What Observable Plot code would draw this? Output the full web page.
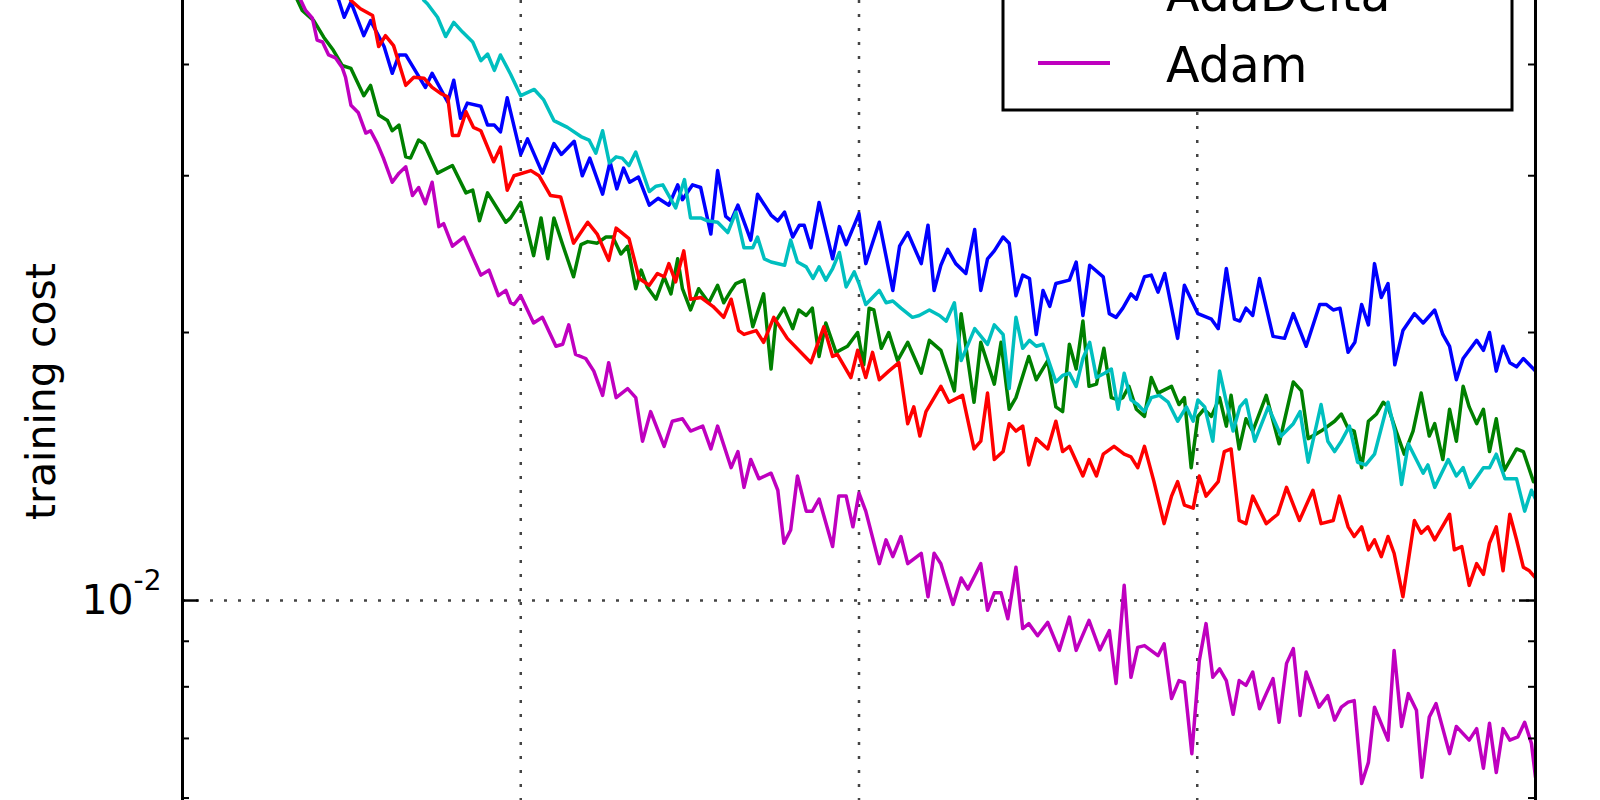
<!DOCTYPE html>
<html>
<head>
<meta charset="utf-8">
<script src="https://cdn.jsdelivr.net/npm/d3@7"></script>
<script src="https://cdn.jsdelivr.net/npm/@observablehq/plot@0.6"></script>
<style>
html, body { margin: 0; padding: 0; background: #fff; overflow: hidden; }
#chart svg { display: block; overflow: hidden; }
</style>
</head>
<body>
<div id="chart"></div>
<script>
// ---- data (epoch, training cost) ----
const seriesNames = ["AdaGrad", "RMSProp", "SGDNesterov", "AdaDelta", "Adam"];
const seriesColors = ["#0000ff", "#008000", "#ff0000", "#00bfbf", "#bf00bf"];

const adagrad = [[18,0.0560],[23.1,0.0472],[23.9,0.0452],[24.9,0.0470],[26.8,0.0431],[27.8,0.0448],[29.8,0.0419],[31.0,0.0391],[32.0,0.0410],[33.0,0.0410],[35.9,0.0377],[36.9,0.0391],[39.2,0.0363],[40.1,0.0384],[41.1,0.0348],[42.1,0.0362],[44.1,0.0359],[45.1,0.0342],[46.1,0.0342],[47.0,0.0336],[48.0,0.0367],[50.0,0.0317],[51.0,0.0330],[53.2,0.0302],[54.9,0.0326],[56.0,0.0317],[57.9,0.0328],[59.1,0.0300],[60.2,0.0314],[62.1,0.0286],[63.2,0.0311],[64.2,0.0290],[65.2,0.0306],[66.1,0.0295],[67.4,0.0299],[69.0,0.0278],[70.3,0.0283],[71.9,0.0278],[73.2,0.0293],[73.9,0.0282],[75.4,0.0293],[76.6,0.0291],[78.1,0.0258],[79.1,0.0304],[80.3,0.0270],[81.1,0.0267],[82.1,0.0278],[84.0,0.0254],[85.0,0.0286],[87.0,0.0271],[88.0,0.0267],[89.0,0.0273],[90.2,0.0256],[91.2,0.0264],[91.9,0.0264],[92.9,0.0249],[94.1,0.0280],[96.1,0.0242],[97.1,0.0263],[98.1,0.0251],[100.0,0.0272],[101.0,0.0239],[103.0,0.0266],[105.0,0.0223],[106.0,0.0250],[107.2,0.0259],[109.2,0.0239],[110.2,0.0264],[111.1,0.0223],[112.1,0.0238],[113.1,0.0248],[114.3,0.0239],[115.8,0.0233],[117.1,0.0261],[118.0,0.0223],[119.0,0.0242],[120.0,0.0247],[121.3,0.0256],[122.2,0.0252],[123.2,0.0220],[124.2,0.0232],[125.2,0.0230],[126.2,0.0199],[127.2,0.0223],[128.2,0.0214],[129.1,0.0227],[131.1,0.0229],[132.1,0.0240],[133.1,0.0209],[134.1,0.0238],[136.1,0.0231],[137.0,0.0210],[138.0,0.0208],[139.0,0.0213],[140.2,0.0221],[141.0,0.0218],[142.2,0.0231],[143.2,0.0232],[144.2,0.0222],[145.2,0.0233],[147.1,0.0197],[148.1,0.0226],[150.1,0.0210],[152.1,0.0207],[153.1,0.0202],[154.3,0.0236],[155.5,0.0207],[156.3,0.0206],[157.2,0.0213],[158.2,0.0209],[159.2,0.0230],[161.2,0.0198],[162.9,0.0197],[164.2,0.0210],[166.1,0.0193],[168.1,0.0215],[169.1,0.0215],[170.1,0.0212],[171.1,0.0213],[172.3,0.0190],[173.3,0.0195],[174.3,0.0215],[175.3,0.0204],[176.2,0.0239],[177.2,0.0219],[178.2,0.0227],[179.2,0.0184],[180.4,0.0201],[182.1,0.0210],[183.4,0.0205],[185.1,0.0212],[186.3,0.0199],[187.3,0.0193],[188.3,0.0177],[189.3,0.0187],[191.3,0.0196],[192.3,0.0191],[193.2,0.0200],[194.2,0.0181],[195.2,0.0193],[196.2,0.0185],[197.2,0.0183],[198.2,0.0187],[200,0.0181]];

const rmsprop = [[12,0.0569],[17.7,0.0460],[19.4,0.0448],[20.9,0.0429],[22.3,0.0415],[23.6,0.0399],[24.9,0.0396],[26.8,0.0369],[27.8,0.0379],[29.0,0.0351],[30.3,0.0346],[31.0,0.0337],[32.0,0.0342],[33.0,0.0315],[33.7,0.0314],[34.9,0.0329],[35.7,0.0326],[37.7,0.0302],[39.9,0.0308],[41.9,0.0287],[42.9,0.0289],[43.9,0.0267],[45.1,0.0287],[47.8,0.0266],[48.5,0.0269],[50.0,0.0280],[51.9,0.0244],[53.0,0.0269],[54.0,0.0242],[54.9,0.0269],[56.2,0.0251],[57.8,0.0231],[58.9,0.0251],[59.9,0.0253],[61.3,0.0252],[62.6,0.0256],[63.6,0.0256],[64.8,0.0245],[65.8,0.0250],[67.0,0.0224],[67.8,0.0235],[68.7,0.0225],[70.0,0.0218],[71.2,0.0231],[72.2,0.0221],[73.2,0.0242],[73.9,0.0224],[75.1,0.0212],[76.3,0.0224],[77.8,0.0216],[79.1,0.0226],[80.0,0.0216],[81.1,0.0223],[81.8,0.0227],[83.0,0.0229],[84.3,0.0203],[85.9,0.0221],[87.0,0.0182],[87.7,0.0206],[88.9,0.0213],[90.2,0.0202],[91.1,0.0212],[92.2,0.0209],[93.1,0.0213],[94.1,0.0188],[95.1,0.0205],[96.6,0.0190],[98.3,0.0193],[99.8,0.0200],[100.7,0.0184],[101.5,0.0213],[102.2,0.0212],[103.3,0.0192],[104.4,0.0200],[105.7,0.0186],[107.2,0.0195],[109.2,0.0180],[110.4,0.0196],[112.1,0.0191],[114.1,0.0172],[115.1,0.0210],[117.0,0.0167],[118.0,0.0195],[120.0,0.0175],[121.0,0.0195],[122.2,0.0164],[123.2,0.0169],[125.1,0.0188],[126.2,0.0177],[127.9,0.0186],[129.1,0.0165],[130.1,0.0163],[131.1,0.0194],[132.1,0.0182],[133.1,0.0206],[134.0,0.0174],[135.1,0.0175],[136.2,0.0192],[137.3,0.0169],[138.3,0.0168],[139.0,0.0169],[139.9,0.0174],[141.0,0.0164],[142.2,0.0161],[143.2,0.0178],[144.2,0.0171],[146.2,0.0174],[147.3,0.0166],[148.1,0.0169],[149.1,0.0141],[150.1,0.0161],[151.0,0.0164],[152.1,0.0161],[153.3,0.0169],[154.3,0.0157],[155.0,0.0170],[156.2,0.0148],[157.2,0.0160],[158.2,0.0155],[160.2,0.0170],[162.1,0.0150],[164.2,0.0176],[165.4,0.0172],[166.4,0.0152],[168.3,0.0155],[170.3,0.0159],[171.3,0.0162],[172.3,0.0156],[173.2,0.0155],[174.3,0.0141],[175.3,0.0159],[176.5,0.0162],[177.5,0.0167],[178.2,0.0165],[179.4,0.0155],[180.6,0.0146],[181.9,0.0155],[183.1,0.0171],[184.3,0.0153],[185.1,0.0158],[186.3,0.0144],[187.3,0.0164],[188.3,0.0151],[189.3,0.0174],[190.2,0.0165],[191.3,0.0158],[192.3,0.0164],[193.2,0.0147],[194.2,0.0160],[195.4,0.0140],[197.2,0.0148],[198.2,0.0147],[199.7,0.0136],[200,0.0136]];

const sgdNesterov = [[19,0.0560],[24.9,0.0472],[26.3,0.0462],[28.1,0.0454],[29.0,0.0419],[30.0,0.0431],[31.2,0.0420],[33.0,0.0379],[34.2,0.0387],[35.7,0.0386],[36.9,0.0377],[38.2,0.0371],[39.2,0.0368],[39.9,0.0333],[40.8,0.0333],[41.9,0.0354],[43.0,0.0340],[44.1,0.0337],[46.0,0.0311],[47.0,0.0323],[48.0,0.0289],[49.0,0.0300],[51.5,0.0304],[52.7,0.0300],[54.4,0.0285],[55.9,0.0284],[57.8,0.0252],[59.9,0.0266],[61.3,0.0258],[63.0,0.0241],[64.1,0.0262],[66.0,0.0255],[67.5,0.0230],[69.0,0.0226],[70.2,0.0233],[71.2,0.0231],[71.9,0.0239],[72.9,0.0228],[74.1,0.0247],[75.1,0.0218],[76.6,0.0219],[78.4,0.0214],[80.0,0.0208],[81.1,0.0218],[82.2,0.0201],[83.0,0.0199],[84.8,0.0201],[85.9,0.0195],[87.4,0.0208],[89.4,0.0197],[92.9,0.0185],[94.8,0.0203],[96.1,0.0188],[96.8,0.0189],[98.8,0.0178],[99.8,0.0191],[101.0,0.0178],[102.0,0.0190],[103.0,0.0177],[104.4,0.0181],[105.9,0.0185],[107.2,0.0158],[108.1,0.0165],[109.0,0.0153],[109.9,0.0163],[112.1,0.0174],[113.3,0.0167],[115.3,0.0170],[117.0,0.0148],[118.0,0.0151],[119.0,0.0171],[120.0,0.0144],[121.3,0.0147],[122.2,0.0158],[123.2,0.0155],[124.2,0.0157],[125.1,0.0142],[126.2,0.0152],[127.9,0.0148],[129.1,0.0159],[130.1,0.0147],[131.1,0.0149],[133.1,0.0138],[134.0,0.0144],[135.1,0.0138],[136.1,0.0146],[137.7,0.0149],[139.2,0.0146],[140.2,0.0145],[141.2,0.0141],[142.2,0.0149],[143.6,0.0136],[145.1,0.0122],[146.2,0.0131],[147.1,0.0136],[148.1,0.0128],[149.4,0.0127],[150.3,0.0138],[151.3,0.0131],[153.1,0.0136],[154.0,0.0147],[155.0,0.0148],[156.2,0.0123],[157.2,0.0122],[158.2,0.0131],[160.2,0.0122],[161.9,0.0125],[163.2,0.0134],[165.1,0.0123],[167.1,0.0133],[168.3,0.0122],[170.1,0.0123],[171.0,0.0131],[172.3,0.0121],[173.2,0.0118],[174.3,0.0121],[175.3,0.0114],[176.2,0.0117],[177.2,0.0112],[178.2,0.0118],[179.1,0.0113],[180.4,0.0101],[182.1,0.0123],[183.1,0.0119],[184.1,0.0121],[185.1,0.0117],[187.3,0.0125],[188.0,0.0114],[189.1,0.0115],[190.2,0.0104],[191.3,0.0110],[192.3,0.0107],[193.2,0.0116],[194.2,0.0121],[195.2,0.0108],[196.2,0.0125],[197.2,0.0117],[198.2,0.0109],[199.1,0.0108],[200,0.0106]];

const adadelta = [[30,0.0560],[35.7,0.0472],[36.2,0.0468],[37.7,0.0452],[38.9,0.0430],[40.1,0.0446],[41.4,0.0435],[42.9,0.0424],[44.1,0.0404],[45.1,0.0411],[46.1,0.0394],[47.0,0.0410],[48.5,0.0390],[50.0,0.0369],[52.0,0.0375],[53.4,0.0365],[54.9,0.0346],[56.9,0.0340],[58.9,0.0332],[60.1,0.0329],[61.1,0.0318],[62.1,0.0337],[63.1,0.0310],[64.1,0.0315],[65.0,0.0314],[66.0,0.0308],[67.0,0.0319],[69.0,0.0288],[70.0,0.0292],[71.0,0.0293],[72.9,0.0276],[74.2,0.0297],[75.1,0.0269],[76.6,0.0269],[77.6,0.0267],[79.1,0.0266],[80.6,0.0259],[81.8,0.0273],[83.0,0.0249],[84.3,0.0249],[85.0,0.0256],[86.0,0.0242],[87.0,0.0240],[89.0,0.0238],[89.9,0.0254],[90.9,0.0240],[92.2,0.0237],[93.2,0.0230],[94.1,0.0237],[95.1,0.0229],[96.1,0.0236],[97.1,0.0246],[98.1,0.0225],[99.3,0.0234],[100.0,0.0227],[101.0,0.0215],[103.0,0.0223],[104.0,0.0216],[105.0,0.0217],[106.2,0.0213],[107.9,0.0208],[108.9,0.0209],[110.4,0.0212],[111.9,0.0209],[112.9,0.0206],[114.1,0.0216],[115.1,0.0186],[117.1,0.0202],[119.0,0.0194],[120.0,0.0204],[121.3,0.0199],[122.2,0.0173],[123.2,0.0208],[124.2,0.0192],[125.2,0.0196],[126.2,0.0193],[127.2,0.0194],[129.1,0.0176],[130.1,0.0179],[131.1,0.0180],[132.1,0.0174],[133.1,0.0187],[134.1,0.0195],[135.1,0.0178],[136.3,0.0180],[137.3,0.0182],[138.3,0.0164],[139.2,0.0180],[140.2,0.0168],[141.2,0.0166],[142.2,0.0163],[143.2,0.0169],[144.4,0.0170],[145.7,0.0167],[147.1,0.0159],[148.4,0.0165],[149.4,0.0159],[150.1,0.0168],[151.1,0.0165],[152.3,0.0151],[153.3,0.0181],[154.3,0.0167],[155.3,0.0155],[156.3,0.0165],[157.2,0.0168],[158.5,0.0151],[160.5,0.0165],[162.4,0.0153],[164.2,0.0158],[165.2,0.0163],[166.4,0.0143],[168.3,0.0166],[169.3,0.0151],[170.3,0.0147],[171.3,0.0151],[172.5,0.0157],[173.7,0.0143],[174.9,0.0142],[176.2,0.0146],[178.2,0.0167],[179.2,0.0155],[180.2,0.0135],[181.2,0.0150],[183.4,0.0139],[184.1,0.0142],[185.1,0.0134],[187.1,0.0144],[188.3,0.0138],[189.3,0.0141],[190.3,0.0134],[192.3,0.0141],[193.2,0.0141],[194.2,0.0146],[195.5,0.0137],[197.2,0.0137],[198.4,0.0126],[199.4,0.0133],[200,0.0130]];

const adam = [[5,0.0750],[12,0.0569],[17.5,0.0472],[18.2,0.0460],[19.2,0.0451],[19.9,0.0426],[20.7,0.0424],[21.6,0.0410],[22.6,0.0407],[23.6,0.0397],[24.1,0.0387],[24.9,0.0360],[26.0,0.0353],[27.1,0.0335],[27.8,0.0337],[28.8,0.0326],[29.7,0.0314],[31.0,0.0295],[32.0,0.0302],[33.0,0.0307],[34.0,0.0285],[34.9,0.0291],[35.9,0.0279],[36.9,0.0295],[37.9,0.0263],[38.6,0.0265],[39.9,0.0250],[41.6,0.0256],[44.1,0.0232],[45.3,0.0235],[46.7,0.0220],[47.8,0.0223],[48.5,0.0216],[49.0,0.0215],[50.0,0.0220],[51.9,0.0205],[53.2,0.0208],[55.2,0.0193],[56.2,0.0194],[57.1,0.0204],[58.1,0.0189],[59.6,0.0187],[60.8,0.0181],[62.1,0.0170],[63.0,0.0185],[64.1,0.0169],[65.8,0.0173],[67.0,0.0169],[68.0,0.0151],[69.2,0.0163],[71.2,0.0149],[72.4,0.0159],[73.9,0.0160],[75.1,0.0155],[76.9,0.0157],[78.1,0.0148],[79.1,0.0157],[81.1,0.0141],[82.1,0.0147],[83.0,0.0134],[84.0,0.0144],[85.2,0.0137],[87.0,0.0139],[88.0,0.0133],[88.9,0.0116],[89.9,0.0120],[90.9,0.0138],[92.2,0.0126],[93.1,0.0126],[94.1,0.0130],[96.1,0.0115],[97.0,0.0131],[98.1,0.0131],[99.1,0.0121],[100.0,0.0132],[101.0,0.0126],[103.0,0.0110],[104.0,0.0117],[105.0,0.0112],[106.2,0.0118],[107.2,0.0110],[109.2,0.0113],[110.2,0.0101],[111.1,0.0113],[112.1,0.0110],[113.9,0.0099],[115.1,0.0106],[116.1,0.0103],[118.0,0.0110],[119.0,0.00975],[120.0,0.0102],[121.0,0.0102],[122.0,0.00954],[123.2,0.0109],[124.2,0.0093],[125.1,0.00942],[126.4,0.00913],[127.9,0.00945],[129.6,0.00879],[131.1,0.00958],[132.1,0.00879],[134.0,0.0095],[135.6,0.0088],[137.0,0.00925],[138.0,0.00807],[139.2,0.0104],[140.2,0.0082],[141.2,0.00886],[142.2,0.0089],[144.2,0.00867],[145.1,0.00894],[146.2,0.00776],[147.3,0.00813],[148.1,0.00809],[149.2,0.00673],[150.3,0.00856],[151.3,0.00942],[152.3,0.0082],[153.3,0.00838],[154.3,0.00813],[155.3,0.00745],[156.2,0.00813],[157.2,0.00803],[158.2,0.00831],[159.2,0.00756],[160.2,0.00786],[161.2,0.00817],[162.1,0.0073],[163.2,0.0085],[164.2,0.00883],[165.2,0.00743],[166.1,0.00831],[167.1,0.00793],[168.0,0.00759],[169.3,0.00782],[170.3,0.00734],[171.3,0.00759],[172.3,0.00769],[173.2,0.00772],[174.3,0.00623],[175.3,0.00658],[176.2,0.00759],[178.2,0.00697],[179.1,0.00879],[180.2,0.00722],[181.2,0.00786],[182.4,0.00753],[183.2,0.00633],[184.3,0.0074],[185.3,0.00766],[187.3,0.00673],[188.3,0.00722],[190.2,0.00697],[191.3,0.00718],[192.3,0.00648],[193.2,0.00728],[194.2,0.00641],[195.2,0.00718],[196.2,0.00697],[197.4,0.00703],[198.4,0.0073],[199.4,0.00691],[200,0.00633]];

const xGridTicks = [50, 100, 150];
const xDomain = [0, 200];
const yDomain = [0.005962, 0.0472];
const yMajorTicks = [0.01];
const yMinorTicks = [0.006, 0.007, 0.008, 0.009, 0.02, 0.03, 0.04];
const yLabel = "training cost";

// ---- build the long table ----
const seriesData = [adagrad, rmsprop, sgdNesterov, adadelta, adam];
const rows = [];
seriesData.forEach((arr, i) => arr.forEach(([epoch, cost]) => rows.push({series: seriesNames[i], epoch, cost})));

const W = 1600, H = 800, mL = 182, mR = 65;
const plotW = W - mL - mR;

const chart = Plot.plot({
  width: W, height: H,
  marginLeft: mL, marginRight: mR, marginTop: 0, marginBottom: 0,
  style: {fontFamily: "'DejaVu Sans', sans-serif", background: "#fff", color: "#000", overflow: "hidden"},
  x: {domain: xDomain, axis: null},
  y: {type: "log", domain: yDomain},
  color: {domain: seriesNames, range: seriesColors},
  marks: [
    Plot.gridX(xGridTicks, {stroke: "#444", strokeOpacity: 1, strokeWidth: 2.5, strokeDasharray: "3,11"}),
    Plot.gridY(yMajorTicks, {stroke: "#444", strokeOpacity: 1, strokeWidth: 2.5, strokeDasharray: "3,11"}),
    Plot.line(rows, {x: "epoch", y: "cost", z: "series", stroke: "series", strokeWidth: 3.5, clip: true}),
    Plot.ruleX(xDomain, {stroke: "#000", strokeWidth: 3}),
    Plot.tickY(yMinorTicks, {insetRight: plotW - 7, stroke: "#000", strokeWidth: 2}),
    Plot.tickY(yMinorTicks, {insetLeft: plotW - 7, stroke: "#000", strokeWidth: 2}),
    Plot.tickY(yMajorTicks, {insetRight: plotW - 16, stroke: "#000", strokeWidth: 2.5}),
    Plot.tickY(yMajorTicks, {insetLeft: plotW - 16, stroke: "#000", strokeWidth: 2.5}),
    Plot.axisY(yMajorTicks, {tickSize: 0, tickPadding: 21, tickFormat: () => "10", fontSize: 41, label: null}),
    Plot.text([yLabel], {text: d => d, frameAnchor: "left", textAnchor: "middle", rotate: -90, dx: -141, dy: -9, fontSize: 41, fill: "#000"})
  ]
});

document.getElementById("chart").appendChild(chart);

// superscript exponent on the 10^-2 tick label
const svg = d3.select(chart);
svg.selectAll('g[aria-label="y-axis tick label"] text')
  .append("tspan").attr("dy", -24).attr("font-size", 28).text("-2");

// legend (upper right, partly above the visible area)
const legend = svg.append("g").attr("font-family", "'DejaVu Sans', sans-serif");
legend.append("rect")
  .attr("x", 1003).attr("y", -360).attr("width", 509).attr("height", 470)
  .attr("fill", "#fff").attr("stroke", "#000").attr("stroke-width", 3);
seriesNames.forEach((name, i) => {
  const base = 82 - (seriesNames.length - 1 - i) * 71;
  legend.append("line")
    .attr("x1", 1038).attr("x2", 1110).attr("y1", base - 19).attr("y2", base - 19)
    .attr("stroke", seriesColors[i]).attr("stroke-width", 4);
  legend.append("text")
    .attr("x", 1166).attr("y", base).attr("font-size", 49).attr("fill", "#000")
    .attr("text-anchor", "start").text(name);
});
</script>
</body>
</html>
